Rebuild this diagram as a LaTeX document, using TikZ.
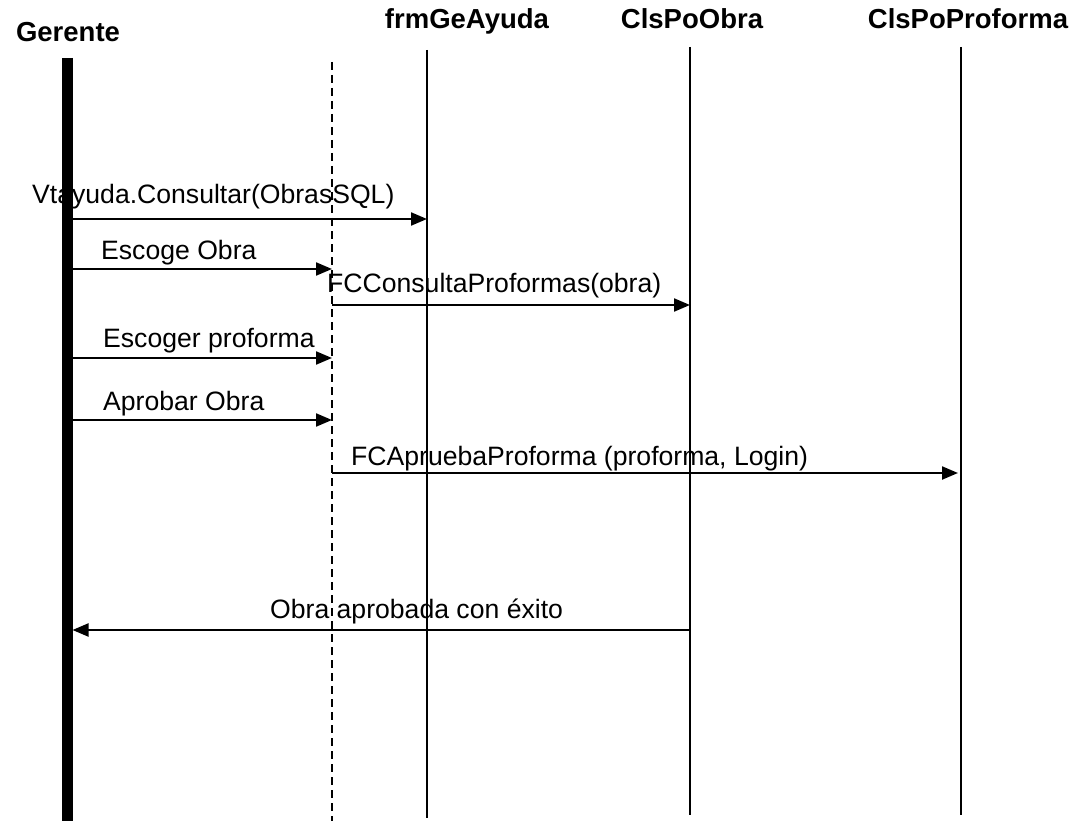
\documentclass[tikz,border=0pt]{standalone}
\usepackage{fontspec}
\setmainfont{Liberation Sans}
\usetikzlibrary{arrows.meta}
\begin{document}
\begin{tikzpicture}[x=1pt,y=-1pt,
  hdr/.style={font=\fontsize{27.5}{32}\selectfont\bfseries, inner sep=0pt, anchor=base},
  lbl/.style={font=\fontsize{26.6}{30}\selectfont, inner sep=0pt, anchor=base west},
  life/.style={line width=1.8pt},
  msg/.style={line width=2.2pt, -{Triangle[length=16pt,width=13pt]}}
]
\useasboundingbox (0,0) rectangle (1081,821);
% headers
\node[hdr] (hg) at (68,42) {Gerente};
\node[hdr] (hf) at (467,29) {frmGeAyuda};
\node[hdr] (ho) at (692,29) {ClsPoObra};
\node[hdr] (hp) at (968,29) {ClsPoProforma};
% lifeline end points
\coordinate (gt) at (67,58);   \coordinate (gb) at (67,821);
\coordinate (dt) at (332,62);  \coordinate (db) at (332,821);
\coordinate (ft) at (427,50);  \coordinate (fb) at (427,818);
\coordinate (ot) at (690,47);  \coordinate (ob) at (690,815);
\coordinate (pt) at (961,47);  \coordinate (pb) at (961,815);
\draw[line width=11pt] (gt) -- (gb);
\draw[line width=1.6pt, dash pattern=on 8pt off 5pt] (dt) -- (db);
\draw[life] (ft) -- (fb);
\draw[life] (ot) -- (ob);
\draw[life] (pt) -- (pb);
% message anchor points
\coordinate (g1) at (72.5,219); \coordinate (f1) at (427,219);
\coordinate (g2) at (72.5,269); \coordinate (d2) at (332,269);
\coordinate (d3) at (332,305);  \coordinate (o3) at (690,305);
\coordinate (g4) at (72.5,358); \coordinate (d4) at (332,358);
\coordinate (g5) at (72.5,420); \coordinate (d5) at (332,420);
\coordinate (d6) at (332,473);  \coordinate (p6) at (958,473);
\coordinate (o7) at (690,630);  \coordinate (g7) at (72.5,630);
% messages
\draw[msg] (g1) -- (f1);
\draw[msg] (g2) -- (d2);
\draw[msg] (d3) -- (o3);
\draw[msg] (g4) -- (d4);
\draw[msg] (g5) -- (d5);
\draw[msg] (d6) -- (p6);
\draw[msg] (o7) -- (g7);
% labels
\node[lbl] (l1) at (32,204) {Vtayuda.Consultar(ObrasSQL)};
\node[lbl] (l2) at (101,259) {Escoge Obra};
\node[lbl] (l3) at (327,292) {FCConsultaProformas(obra)};
\node[lbl] (l4) at (103,347) {Escoger proforma};
\node[lbl] (l5) at (103,410) {Aprobar Obra};
\node[lbl] (l6) at (351,465) {FCApruebaProforma (proforma, Login)};
\node[lbl] (l7) at (270,618) {Obra aprobada con éxito};
\end{tikzpicture}
\end{document}
